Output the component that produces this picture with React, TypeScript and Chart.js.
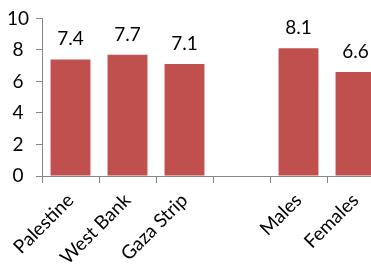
import React, { useEffect, useRef } from "react";
import { Chart, registerables } from "chart.js";

Chart.register(...registerables);

const categories = ["Palestine", "West Bank", "Gaza Strip", "", "Males", "Females"];
const values = [7.4, 7.7, 7.1, null, 8.1, 6.6];
const yTicks = [0, 2, 4, 6, 8, 10];

const FONT = "Lato";
const AXIS = "#868686";
const BAR = "#C0504D";

const labelPlugin = {
  id: "barLabels",
  afterDatasetsDraw(chart: any) {
    const ctx = chart.ctx;
    const meta = chart.getDatasetMeta(0);
    ctx.save();
    ctx.font = `19px ${FONT}`;
    ctx.fillStyle = "#000";
    ctx.textAlign = "center";
    ctx.textBaseline = "alphabetic";
    meta.data.forEach((el: any, i: number) => {
      const v = values[i];
      if (v == null) return;
      ctx.fillText(v.toFixed(1), el.x, el.y - 14);
    });
    ctx.restore();
  },
};

export default function App() {
  const ref = useRef<HTMLCanvasElement>(null);
  useEffect(() => {
    document.documentElement.style.overflow = "hidden";
    document.body.style.overflow = "hidden";
    const chart = new Chart(ref.current!, {
      type: "bar",
      data: {
        labels: categories,
        datasets: [
          {
            data: values as any,
            backgroundColor: BAR,
            barPercentage: 0.7,
            categoryPercentage: 1,
          },
        ],
      },
      options: {
        animation: false,
        responsive: false,
        devicePixelRatio: 1,
        layout: { padding: { top: 8, right: 1, left: 0, bottom: 0 } },
        plugins: { legend: { display: false }, tooltip: { enabled: false } },
        scales: {
          x: {
            offset: true,
            grid: {
              display: true,
              offset: true,
              drawOnChartArea: false,
              drawTicks: true,
              tickLength: 7,
              color: AXIS,
            },
            border: { color: AXIS },
            ticks: {
              color: "#000",
              font: { family: FONT, size: 19 },
              maxRotation: 45,
              minRotation: 45,
              padding: 6,
              autoSkip: false,
            },
            afterFit: (s: any) => {
              s.height = 88;
            },
          },
          y: {
            min: 0,
            max: 10,
            afterBuildTicks: (s: any) => {
              s.ticks = yTicks.map((v) => ({ value: v }));
            },
            grid: {
              display: true,
              drawOnChartArea: false,
              drawTicks: true,
              tickLength: 6,
              color: AXIS,
            },
            border: { color: AXIS },
            ticks: {
              color: "#000",
              font: { family: FONT, size: 19 },
              crossAlign: "center",
              padding: 7,
            },
            afterFit: (s: any) => {
              s.width = 42;
            },
          },
        },
      },
      plugins: [labelPlugin],
    });
    return () => chart.destroy();
  }, []);
  return (
    <div style={{ position: "fixed", left: 0, top: 0, width: 385, height: 264 }}>
      <canvas ref={ref} width={385} height={264} style={{ width: 385, height: 264 }} />
    </div>
  );
}
